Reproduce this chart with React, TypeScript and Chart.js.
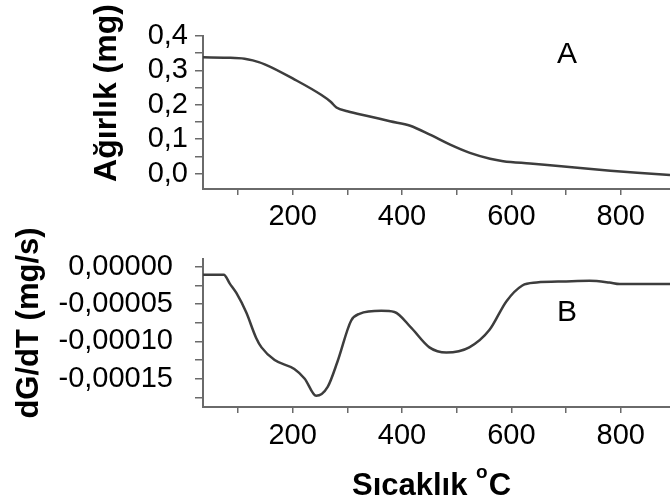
import { useEffect, useRef } from "react";
import { Chart, registerables } from "chart.js";

Chart.register(...registerables);

const FONT = "'Liberation Sans', Arial, Helvetica, sans-serif";
const CURVE = "#3d3d3d";
const AXIS = "#6a6a6a";

// Temperature range shared by both panels (°C)
const TEMP_MIN = 36;
const TEMP_MAX = 890;
const tempTickLabels = [200, 400, 600, 800];

// Panel A – TGA: sample weight (mg) vs temperature
const tgaTemp = [36, 80, 112, 127, 150, 203, 252, 270, 280, 300, 341, 378, 415, 451, 488, 524, 561, 585, 634, 691, 781, 830, 890];
const tgaWeight = [0.338, 0.337, 0.334, 0.329, 0.317, 0.274, 0.229, 0.208, 0.192, 0.181, 0.166, 0.152, 0.139, 0.113, 0.084, 0.06, 0.043, 0.036, 0.029, 0.021, 0.008, 0.002, -0.004];
const weightTickLabels = [0, 0.1, 0.2, 0.3, 0.4];

// Panel B – DTG: weight-loss rate (mg/s) vs temperature
const dtgTemp = [36, 74, 85, 97, 115, 133, 143, 167, 203, 222, 243, 264, 282, 307, 322, 362, 386, 417, 450, 481, 523, 560, 591, 620, 646, 700, 743, 779, 798, 890];
const dtgRate = [
  -0.0000105, -0.0000105, -0.0000225, -0.000035, -0.000061, -0.000095, -0.000108, -0.000125, -0.000137,
  -0.00015, -0.000173, -0.000161, -0.000127, -0.000072, -0.000063, -0.000059, -0.0000605, -0.000082,
  -0.000108, -0.000115, -0.000108, -0.0000845, -0.000046, -0.000025, -0.000021, -0.0000195, -0.0000188,
  -0.000021, -0.000023, -0.000023,
];
const rateTickLabels = [0, -0.00005, -0.0001, -0.00015];

type TextItem = {
  text: string;
  x: number;
  y: number;
  size: number;
  bold?: boolean;
  rotate?: boolean;
};

const near = (list: number[], v: number, eps: number) => list.some((t) => Math.abs(t - v) < eps);

function textPlugin(id: string, items: TextItem[], extra?: (ctx: CanvasRenderingContext2D) => void) {
  return {
    id,
    afterDraw(chart: Chart) {
      const ctx = chart.ctx;
      ctx.save();
      ctx.fillStyle = "#000";
      ctx.textBaseline = "alphabetic";
      ctx.textAlign = "center";
      for (const it of items) {
        ctx.font = `${it.bold ? "bold " : ""}${it.size}px ${FONT}`;
        if (it.rotate) {
          ctx.save();
          ctx.translate(it.x, it.y);
          ctx.rotate(-Math.PI / 2);
          ctx.fillText(it.text, 0, 0);
          ctx.restore();
        } else {
          ctx.fillText(it.text, it.x, it.y);
        }
      }
      if (extra) extra(ctx);
      ctx.restore();
    },
  };
}

function tempScale(xHeight: number, pad: number) {
  return {
    type: "linear" as const,
    min: TEMP_MIN,
    max: TEMP_MAX,
    afterFit: (s: any) => {
      s.height = xHeight;
    },
    border: { display: true, color: AXIS, width: 2 },
    grid: { drawOnChartArea: false, drawTicks: true, tickLength: 6, color: AXIS, lineWidth: 1.5 },
    ticks: {
      stepSize: 100,
      includeBounds: false,
      autoSkip: false,
      maxRotation: 0,
      padding: pad,
      color: "#000",
      font: { family: FONT, size: 29 },
      callback: (v: any) => (near(tempTickLabels, Number(v), 1) ? String(Math.round(Number(v))) : ""),
    },
  };
}

export default function App() {
  const topRef = useRef<HTMLCanvasElement>(null);
  const botRef = useRef<HTMLCanvasElement>(null);

  useEffect(() => {
    const top = new Chart(topRef.current!, {
      type: "line",
      data: {
        datasets: [
          {
            data: tgaTemp.map((t, i) => ({ x: t, y: tgaWeight[i] })),
            borderColor: CURVE,
            borderWidth: 2.5,
            pointRadius: 0,
            cubicInterpolationMode: "monotone",
            fill: false,
          },
        ],
      },
      options: {
        animation: false,
        responsive: false,
        devicePixelRatio: 1,
        layout: { padding: { top: 36, left: 0, right: 0, bottom: 0 } },
        plugins: { legend: { display: false }, tooltip: { enabled: false } },
        scales: {
          x: tempScale(61, 5),
          y: {
            type: "linear",
            min: -0.045,
            max: 0.4,
            afterFit: (s: any) => {
              s.width = 203;
            },
            border: { display: true, color: AXIS, width: 2 },
            grid: { drawOnChartArea: false, drawTicks: true, tickLength: 8, color: AXIS, lineWidth: 1.5 },
            ticks: {
              stepSize: 0.05,
              includeBounds: false,
              autoSkip: false,
              padding: 7,
              color: "#000",
              font: { family: FONT, size: 29 },
              callback: (v: any) =>
                near(weightTickLabels, Number(v), 0.001) ? Math.abs(Number(v)).toFixed(1).replace(".", ",") : "",
            },
          },
        },
      },
      plugins: [
        textPlugin("panelA", [
          { text: "Ağırlık (mg)", x: 116, y: 93, size: 32, bold: true, rotate: true },
          { text: "A", x: 567, y: 63, size: 30 },
        ]),
      ],
    });

    const bottom = new Chart(botRef.current!, {
      type: "line",
      data: {
        datasets: [
          {
            data: dtgTemp.map((t, i) => ({ x: t, y: dtgRate[i] })),
            borderColor: CURVE,
            borderWidth: 2.5,
            pointRadius: 0,
            cubicInterpolationMode: "monotone",
            fill: false,
          },
        ],
      },
      options: {
        animation: false,
        responsive: false,
        devicePixelRatio: 1,
        layout: { padding: { top: 33, left: 0, right: 0, bottom: 0 } },
        plugins: { legend: { display: false }, tooltip: { enabled: false } },
        scales: {
          x: tempScale(97, 6),
          y: {
            type: "linear",
            min: -0.000188,
            max: 0.00001,
            afterFit: (s: any) => {
              s.width = 203;
            },
            border: { display: true, color: AXIS, width: 2 },
            grid: { drawOnChartArea: false, drawTicks: true, tickLength: 8, color: AXIS, lineWidth: 1.5 },
            ticks: {
              stepSize: 0.000025,
              includeBounds: false,
              autoSkip: false,
              padding: 22,
              color: "#000",
              font: { family: FONT, size: 29 },
              callback: (v: any) => {
                const n = Number(v);
                if (!near(rateTickLabels, n, 0.000001)) return "";
                const s = Math.abs(n).toFixed(5).replace(".", ",");
                return n < -1e-9 ? "-" + s : s;
              },
            },
          },
        },
      },
      plugins: [
        textPlugin(
          "panelB",
          [
            { text: "dG/dT (mg/s)", x: 38, y: 103, size: 31, bold: true, rotate: true },
            { text: "B", x: 567, y: 101, size: 30 },
          ],
          (ctx) => {
            // x-axis title with superscript degree mark
            ctx.textAlign = "left";
            ctx.font = `bold 31px ${FONT}`;
            let x = 352;
            const base = 275;
            const main = "Sıcaklık ";
            ctx.fillText(main, x, base);
            x += ctx.measureText(main).width;
            ctx.font = `bold 19px ${FONT}`;
            ctx.fillText("o", x, base - 17);
            x += ctx.measureText("o").width + 1;
            ctx.font = `bold 31px ${FONT}`;
            ctx.fillText("C", x, base);
          }
        ),
      ],
    });

    return () => {
      top.destroy();
      bottom.destroy();
    };
  }, []);

  return (
    <div style={{ position: "absolute", left: 0, top: 0, width: 670, height: 504, background: "#fff", overflow: "hidden" }}>
      <canvas ref={topRef} width={670} height={250} style={{ position: "absolute", left: 0, top: 0 }} />
      <canvas ref={botRef} width={670} height={284} style={{ position: "absolute", left: 0, top: 220 }} />
    </div>
  );
}
